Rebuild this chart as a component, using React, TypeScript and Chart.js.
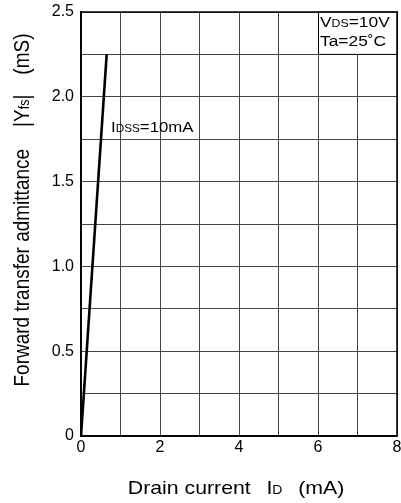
import React, { useEffect, useRef } from "react";
import { Chart, registerables } from "chart.js";

Chart.register(...registerables);

// ---- data ----
const drainCurrent = [0, 0.65]; // I_D (mA)
const admittance = [0, 2.25]; // |Yfs| (mS)
const xTickLabels = ["0", "", "2", "", "4", "", "6", "", "8"];
const yTickLabels = ["0", "", "0.5", "", "1.0", "", "1.5", "", "2.0", "", "2.5"];
const curveLabelAt = [0.76, 1.79]; // annotation anchor (data units)
const condBox = [6, 8, 2.25, 2.5]; // x0, x1, y0, y1 (data units)

const FONT = '"Liberation Sans", Arial, Helvetica, sans-serif';
const SX = 1.12;

type Seg = { t: string; s: number; gap?: number };

function segWidth(ctx: CanvasRenderingContext2D, segs: Seg[]) {
  let w = 0;
  for (const g of segs) {
    ctx.font = `${g.s}px ${FONT}`;
    w += (g.gap || 0) + ctx.measureText(g.t).width;
  }
  return w;
}

function drawSegs(ctx: CanvasRenderingContext2D, segs: Seg[], x: number, y: number) {
  let cx = x;
  ctx.textBaseline = "alphabetic";
  ctx.textAlign = "left";
  for (const g of segs) {
    cx += g.gap || 0;
    ctx.font = `${g.s}px ${FONT}`;
    ctx.fillText(g.t, cx, y);
    cx += ctx.measureText(g.t).width;
  }
}

const overlayPlugin = {
  id: "overlay",
  afterDraw(chart: any) {
    const ctx: CanvasRenderingContext2D = chart.ctx;
    const { left, right, top, bottom } = chart.chartArea;
    const xs = chart.scales.x;
    const ys = chart.scales.y;
    ctx.save();
    ctx.fillStyle = "#000";
    ctx.strokeStyle = "#000";

    // condition box
    const bx0 = xs.getPixelForValue(condBox[0]);
    const bx1 = xs.getPixelForValue(condBox[1]);
    const by0 = ys.getPixelForValue(condBox[3]);
    const by1 = ys.getPixelForValue(condBox[2]);
    ctx.fillStyle = "#fff";
    ctx.fillRect(bx0, by0, bx1 - bx0, by1 - by0);
    ctx.lineWidth = 1;
    ctx.strokeRect(Math.round(bx0) + 0.5, by0, bx1 - bx0, by1 - by0);
    ctx.fillStyle = "#000";

    // plot frame
    ctx.lineWidth = 1.5;
    ctx.strokeRect(left, top, right - left, bottom - top);

    // condition text
    ctx.save();
    ctx.translate(bx0 + 2, 0);
    ctx.scale(SX, 1);
    drawSegs(ctx, [{ t: "V", s: 15.5 }, { t: "DS", s: 11 }, { t: "=10V", s: 15.5 }], 0, by0 + 15);
    drawSegs(ctx, [{ t: "Ta=25\u02DAC", s: 15.5 }], 0, by0 + 34);
    ctx.restore();

    // curve label
    ctx.save();
    ctx.translate(xs.getPixelForValue(curveLabelAt[0]), ys.getPixelForValue(curveLabelAt[1]));
    ctx.scale(SX, 1);
    drawSegs(ctx, [{ t: "I", s: 15 }, { t: "DSS", s: 10.5 }, { t: "=10mA", s: 15 }], 0, 0);
    ctx.restore();

    // x title
    const xt: Seg[] = [
      { t: "Drain current", s: 19 },
      { t: "I", s: 19, gap: 14 },
      { t: "D", s: 12.5 },
      { t: "(mA)", s: 19, gap: 14 },
    ];
    const xw = segWidth(ctx, xt) * SX;
    ctx.save();
    ctx.translate((left + right) / 2 - 3 - xw / 2, 494);
    ctx.scale(SX, 1);
    drawSegs(ctx, xt, 0, 0);
    ctx.restore();

    // y title
    const yt: Seg[] = [
      { t: "Forward transfer admittance", s: 19 },
      { t: "|Y", s: 19, gap: 22 },
      { t: "fs", s: 12.5 },
      { t: "|", s: 19 },
      { t: "(mS)", s: 19, gap: 20 },
    ];
    const yw = segWidth(ctx, yt);
    ctx.save();
    ctx.translate(29, (top + bottom) / 2 - 14 + yw / 2);
    ctx.rotate(-Math.PI / 2);
    ctx.scale(1, SX);
    drawSegs(ctx, yt, 0, 0);
    ctx.restore();

    ctx.restore();
  },
};

export default function App() {
  const ref = useRef<HTMLCanvasElement | null>(null);
  useEffect(() => {
    if (!ref.current) return;
    const chart = new Chart(ref.current, {
      type: "line",
      data: {
        datasets: [
          {
            data: drainCurrent.map((x, i) => ({ x, y: admittance[i] })),
            borderColor: "#000",
            borderWidth: 2.6,
            pointRadius: 0,
            tension: 0,
          },
        ],
      },
      options: {
        animation: false,
        responsive: false,
        devicePixelRatio: 1,
        layout: { padding: { top: 12, right: 4, left: 0, bottom: 0 } },
        plugins: { legend: { display: false }, tooltip: { enabled: false } },
        scales: {
          x: {
            type: "linear",
            min: 0,
            max: 8,
            afterFit: (s: any) => {
              s.height = 67;
              s.paddingLeft = 0;
              s.paddingRight = 0;
            },
            ticks: {
              stepSize: 1,
              autoSkip: false,
              maxRotation: 0,
              padding: 2,
              color: "#000",
              font: { family: FONT, size: 16 },
              callback: (_v: any, i: number) => xTickLabels[i] ?? "",
            },
            grid: { color: "#444", lineWidth: 1, drawTicks: false },
            border: { display: true, color: "#000", width: 1.5 },
          },
          y: {
            type: "linear",
            min: 0,
            max: 2.5,
            afterFit: (s: any) => {
              s.width = 81;
              s.paddingTop = 0;
              s.paddingBottom = 0;
            },
            ticks: {
              stepSize: 0.25,
              autoSkip: false,
              padding: 7,
              color: "#000",
              font: { family: FONT, size: 16 },
              callback: (_v: any, i: number) => yTickLabels[i] ?? "",
            },
            grid: { color: "#444", lineWidth: 1, drawTicks: false },
            border: { display: true, color: "#000", width: 1.5 },
          },
        },
      },
      plugins: [overlayPlugin],
    });
    return () => chart.destroy();
  }, []);
  return (
    <div style={{ position: "absolute", left: 0, top: 0, width: 401, height: 503, background: "#fff" }}>
      <canvas ref={ref} width={401} height={503} style={{ width: 401, height: 503, display: "block" }} />
    </div>
  );
}
